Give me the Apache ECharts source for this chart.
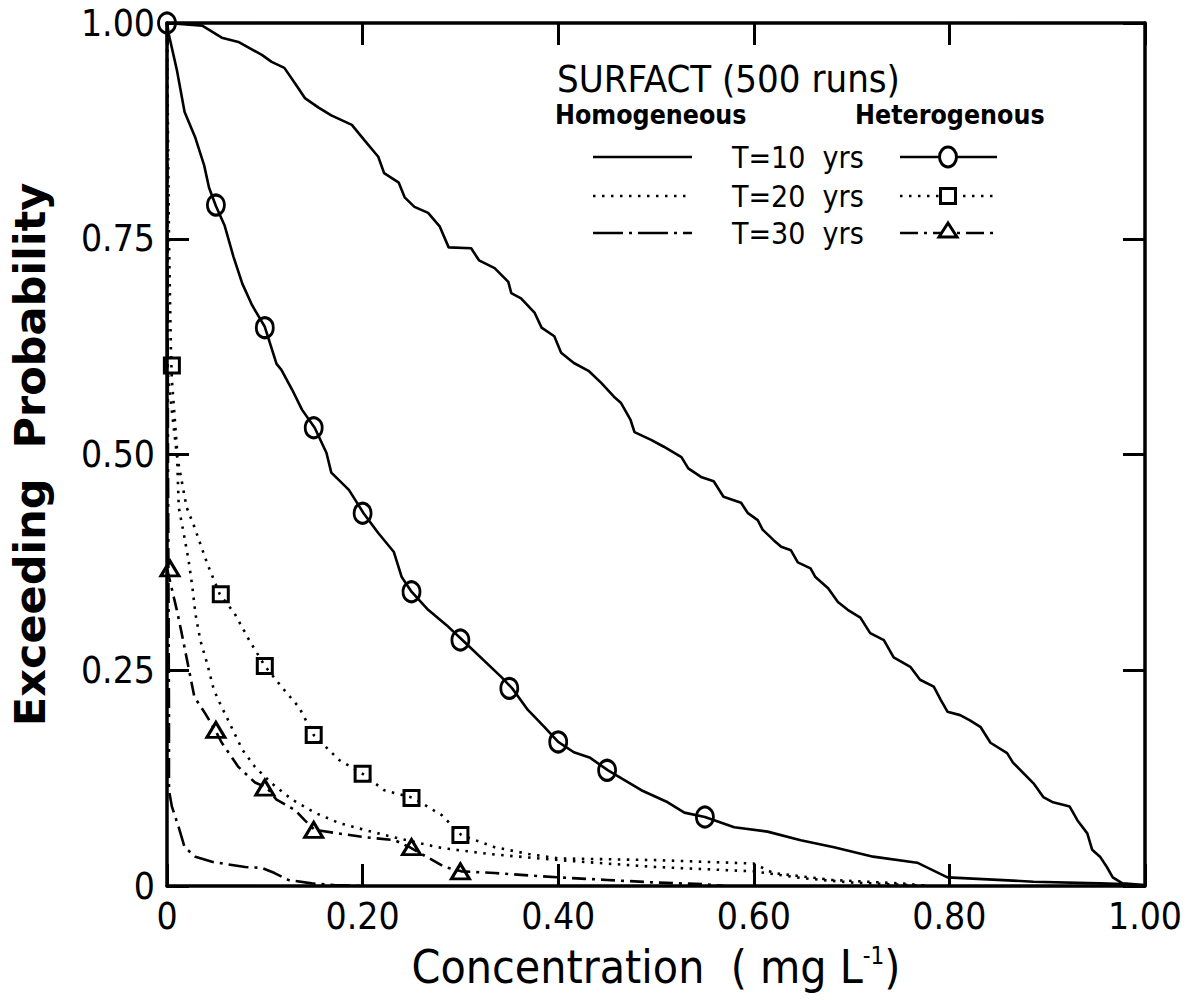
<!DOCTYPE html>
<html><head><meta charset="utf-8">
<script src="https://cdn.jsdelivr.net/npm/echarts@6/dist/echarts.min.js"></script>
<style>html,body{margin:0;padding:0;background:#fff}#c{width:1195px;height:1000px}</style>
</head><body><div id="c"></div>
<script>
// ---- data ----
const xTickLabels = ['0', '0.20', '0.40', '0.60', '0.80', '1.00'];
const yTickLabels = ['0', '0.25', '0.50', '0.75', '1.00'];

const homo10 = [[0,1.0],[0.036,0.997],[0.056,0.983],[0.073,0.978],[0.097,0.963],[0.107,0.955],[0.120,0.948],[0.131,0.930],[0.141,0.913],[0.155,0.902],[0.168,0.893],[0.189,0.882],[0.202,0.864],[0.216,0.845],[0.222,0.826],[0.237,0.815],[0.243,0.798],[0.253,0.787],[0.267,0.780],[0.279,0.764],[0.288,0.740],[0.311,0.739],[0.319,0.725],[0.335,0.716],[0.349,0.700],[0.352,0.687],[0.362,0.681],[0.376,0.664],[0.383,0.647],[0.396,0.637],[0.403,0.618],[0.416,0.606],[0.431,0.597],[0.444,0.583],[0.457,0.567],[0.464,0.560],[0.474,0.540],[0.478,0.526],[0.495,0.517],[0.508,0.509],[0.526,0.497],[0.533,0.484],[0.546,0.474],[0.559,0.469],[0.569,0.451],[0.587,0.444],[0.594,0.432],[0.604,0.424],[0.609,0.413],[0.620,0.401],[0.628,0.393],[0.638,0.389],[0.645,0.375],[0.658,0.368],[0.663,0.358],[0.676,0.345],[0.686,0.329],[0.696,0.320],[0.709,0.311],[0.719,0.293],[0.733,0.285],[0.743,0.265],[0.760,0.254],[0.770,0.239],[0.784,0.231],[0.791,0.216],[0.798,0.202],[0.811,0.198],[0.821,0.192],[0.832,0.184],[0.842,0.166],[0.859,0.154],[0.865,0.143],[0.886,0.119],[0.896,0.103],[0.906,0.097],[0.923,0.092],[0.931,0.076],[0.941,0.061],[0.946,0.042],[0.954,0.034],[0.961,0.022],[0.967,0.010],[0.977,0.003],[1.0,0.001]];

const homo20 = [[0,1.0],[0.002,0.75],[0.004,0.62],[0.005,0.586],[0.010,0.51],[0.012,0.439],[0.017,0.409],[0.022,0.378],[0.026,0.346],[0.029,0.316],[0.034,0.285],[0.041,0.258],[0.048,0.227],[0.054,0.212],[0.066,0.184],[0.077,0.158],[0.090,0.138],[0.107,0.119],[0.128,0.100],[0.151,0.085],[0.176,0.073],[0.202,0.065],[0.230,0.057],[0.257,0.050],[0.281,0.044],[0.33,0.037],[0.40,0.030],[0.50,0.022],[0.60,0.017],[0.65,0.009],[0.70,0.004],[0.78,0.0]];

const homo30 = [[0,1.0],[0.001,0.5],[0.002,0.2],[0.002,0.111],[0.005,0.092],[0.012,0.068],[0.018,0.045],[0.029,0.034],[0.046,0.028],[0.080,0.022],[0.097,0.021],[0.110,0.015],[0.124,0.007],[0.148,0.003],[0.171,0.001],[0.20,0.0]];

const het10 = [[0,1.0],[0.002,0.986],[0.010,0.946],[0.018,0.897],[0.029,0.867],[0.038,0.835],[0.043,0.809],[0.050,0.788],[0.059,0.765],[0.068,0.729],[0.077,0.698],[0.087,0.673],[0.100,0.648],[0.112,0.605],[0.117,0.598],[0.128,0.575],[0.138,0.552],[0.151,0.531],[0.163,0.502],[0.168,0.479],[0.186,0.459],[0.201,0.432],[0.216,0.409],[0.232,0.387],[0.240,0.358],[0.250,0.341],[0.267,0.320],[0.288,0.300],[0.302,0.285],[0.342,0.242],[0.353,0.229],[0.369,0.204],[0.386,0.184],[0.400,0.167],[0.416,0.155],[0.432,0.149],[0.451,0.134],[0.485,0.111],[0.512,0.097],[0.529,0.085],[0.550,0.080],[0.580,0.068],[0.614,0.063],[0.648,0.053],[0.682,0.045],[0.722,0.034],[0.767,0.027],[0.798,0.010],[0.886,0.005],[0.954,0.003],[0.985,0.002]];
const het10Marks = [[0,1.0],[0.05,0.789],[0.10,0.647],[0.15,0.531],[0.20,0.432],[0.25,0.341],[0.30,0.285],[0.35,0.229],[0.40,0.167],[0.45,0.134],[0.55,0.080]];

const het20 = [[0,0.603],[0.005,0.55],[0.010,0.50],[0.020,0.439],[0.028,0.416],[0.041,0.374],[0.054,0.338],[0.069,0.316],[0.084,0.285],[0.100,0.255],[0.117,0.231],[0.135,0.207],[0.150,0.175],[0.176,0.146],[0.200,0.130],[0.222,0.111],[0.252,0.102],[0.281,0.082],[0.301,0.059],[0.335,0.045],[0.37,0.037],[0.40,0.032],[0.50,0.030],[0.60,0.026],[0.62,0.015],[0.68,0.007],[0.75,0.003],[0.78,0.0]];
const het20Marks = [[0.005,0.603],[0.055,0.338],[0.10,0.255],[0.15,0.175],[0.20,0.130],[0.25,0.102],[0.30,0.059]];

const het30 = [[0,0.368],[0.010,0.320],[0.015,0.293],[0.028,0.219],[0.039,0.200],[0.049,0.181],[0.056,0.166],[0.073,0.138],[0.090,0.120],[0.102,0.114],[0.112,0.100],[0.131,0.088],[0.141,0.076],[0.151,0.065],[0.199,0.057],[0.233,0.053],[0.248,0.045],[0.284,0.022],[0.301,0.017],[0.335,0.015],[0.40,0.010],[0.45,0.007],[0.50,0.004],[0.55,0.002],[0.57,0.0]];
const het30Marks = [[0.003,0.368],[0.05,0.181],[0.10,0.114],[0.15,0.065],[0.25,0.045],[0.30,0.017]];

// ---- chart ----
const FONT = "'DejaVu Sans Condensed', 'Liberation Sans Narrow', 'DejaVu Sans', sans-serif";
const DOT = [2.5, 6.5];
const DASHDOT = [20, 6, 3, 6];
const chart = echarts.init(document.getElementById('c'), null, {renderer: 'svg'});

function xAxisDef(pos, labels) {
  return {
    type: 'value', min: 0, max: 1, interval: 0.2, position: pos,
    axisLine: {onZero: false, lineStyle: {color: '#000', width: 3.5}},
    axisTick: {inside: true, length: 22, lineStyle: {color: '#000', width: 3}},
    splitLine: {show: false},
    axisLabel: {show: labels, color: '#000', fontFamily: FONT, fontSize: 37, margin: 12,
      formatter: v => xTickLabels[Math.round(v / 0.2)]}
  };
}
function yAxisDef(pos, labels) {
  return {
    type: 'value', min: 0, max: 1, interval: 0.25, position: pos,
    axisLine: {onZero: false, lineStyle: {color: '#000', width: 3.5}},
    axisTick: {inside: true, length: 22, lineStyle: {color: '#000', width: 3}},
    splitLine: {show: false},
    axisLabel: {show: labels, color: '#000', fontFamily: FONT, fontSize: 37, margin: 12,
      formatter: v => yTickLabels[Math.round(v / 0.25)]}
  };
}

const xa = xAxisDef('bottom', true);
xa.name = 'Concentration  ( mg L{sup|-1})';
xa.nameLocation = 'middle';
xa.nameGap = 58;
xa.nameTextStyle = {color: '#000', fontFamily: FONT, fontSize: 46,
  rich: {sup: {fontFamily: FONT, fontSize: 24, verticalAlign: 'top', padding: [0, 0, 22, 0]}}};
const xt = xAxisDef('top', false);
const ya = yAxisDef('left', true);
ya.name = 'Exceeding  Probability';
ya.nameLocation = 'middle';
ya.nameGap = 116;
ya.nameTextStyle = {color: '#000', fontFamily: "'DejaVu Sans', sans-serif", fontWeight: 'bold', fontSize: 43};
const yr = yAxisDef('right', false);

function lineS(data, type) {
  return {type: 'line', data: data, showSymbol: false, symbol: 'none', animation: false, z: 3,
    lineStyle: {color: '#000', width: 2.6, type: type, cap: 'butt', opacity: 1}};
}
function markS(data, symbol, size) {
  return {type: 'scatter', data: data, symbol: symbol, symbolSize: size, animation: false, z: 4,
    itemStyle: {color: 'rgba(255,255,255,0)', borderColor: '#000', borderWidth: 3, opacity: 1}};
}

// legend (graphics)
const LT = {fill: '#000', fontFamily: FONT};
const g = [
  {type: 'text', x: 557, y: 79, style: Object.assign({text: 'SURFACT (500 runs)', fontSize: 38, verticalAlign: 'middle'}, LT)},
  {type: 'text', x: 555, y: 114, style: Object.assign({text: 'Homogeneous', fontSize: 26.5, fontWeight: 'bold', verticalAlign: 'middle'}, LT)},
  {type: 'text', x: 855, y: 114, style: Object.assign({text: 'Heterogenous', fontSize: 26.5, fontWeight: 'bold', verticalAlign: 'middle'}, LT)},
  {type: 'text', x: 732, y: 157, style: Object.assign({text: 'T=10  yrs', fontSize: 30, verticalAlign: 'middle'}, LT)},
  {type: 'text', x: 732, y: 196, style: Object.assign({text: 'T=20  yrs', fontSize: 30, verticalAlign: 'middle'}, LT)},
  {type: 'text', x: 732, y: 233, style: Object.assign({text: 'T=30  yrs', fontSize: 30, verticalAlign: 'middle'}, LT)},
  {type: 'line', shape: {x1: 593, y1: 157, x2: 692, y2: 157}, style: {stroke: '#000', lineWidth: 2.6}},
  {type: 'line', shape: {x1: 593, y1: 196, x2: 692, y2: 196}, style: {stroke: '#000', lineWidth: 2.6, lineDash: DOT}},
  {type: 'line', shape: {x1: 593, y1: 233, x2: 692, y2: 233}, style: {stroke: '#000', lineWidth: 2.6, lineDash: [30, 6, 3, 6]}},
  {type: 'line', shape: {x1: 900, y1: 157, x2: 997, y2: 157}, style: {stroke: '#000', lineWidth: 2.6}},
  {type: 'line', shape: {x1: 900, y1: 196, x2: 997, y2: 196}, style: {stroke: '#000', lineWidth: 2.6, lineDash: DOT}},
  {type: 'line', shape: {x1: 900, y1: 233, x2: 997, y2: 233}, style: {stroke: '#000', lineWidth: 2.6, lineDash: [18, 6, 3, 6]}},
  {type: 'ellipse', shape: {cx: 948, cy: 157, rx: 8.5, ry: 10}, style: {fill: '#fff', stroke: '#000', lineWidth: 3}},
  {type: 'rect', shape: {x: 940.5, y: 188.5, width: 15, height: 15}, style: {fill: '#fff', stroke: '#000', lineWidth: 3}},
  {type: 'polygon', shape: {points: [[948, 223], [939, 237], [957, 237]]}, style: {fill: '#fff', stroke: '#000', lineWidth: 3}}
];

chart.setOption({
  animation: false,
  backgroundColor: '#fff',
  grid: {left: 165, right: 50, top: 23, bottom: 114, containLabel: false},
  xAxis: [xa, xt],
  yAxis: [ya, yr],
  series: [
    lineS(homo10, 'solid'),
    lineS(homo20, DOT),
    lineS(homo30, DASHDOT),
    lineS(het10, 'solid'),
    lineS(het20, DOT),
    lineS(het30, [14, 6, 3, 6]),
    markS(het10Marks, 'circle', [17, 20]),
    markS(het20Marks, 'rect', 15),
    markS(het30Marks, 'triangle', [18, 15])
  ],
  graphic: g
});
</script></body></html>
